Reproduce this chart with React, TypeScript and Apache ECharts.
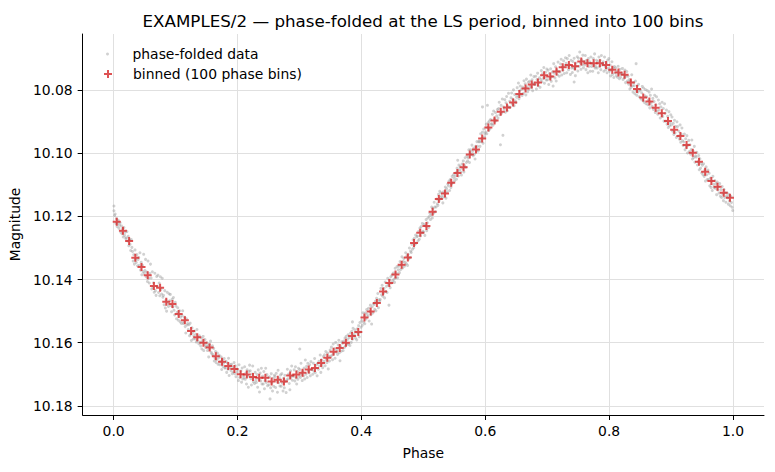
import React, { useEffect, useRef } from "react";
import * as echarts from "echarts";

// Phase-folded light curve of EXAMPLES/2, folded at the Lomb-Scargle period.
const BIN_COUNT = 100;

// Mean magnitude of each of the 100 phase bins (bin i covers phase i/100 .. (i+1)/100).
const binnedMag = [
  10.1217, 10.1245, 10.1278, 10.1331, 10.136, 10.1386, 10.142, 10.1426, 10.147, 10.1477,
  10.1509, 10.1529, 10.1563, 10.1583, 10.16, 10.1615, 10.1643, 10.166, 10.1674, 10.1683,
  10.17, 10.1701, 10.1709, 10.1711, 10.1711, 10.1723, 10.1717, 10.1723, 10.1704, 10.1701,
  10.1695, 10.1685, 10.168, 10.1664, 10.1648, 10.1629, 10.1617, 10.16, 10.1579, 10.1566,
  10.152, 10.1501, 10.1474, 10.1438, 10.1411, 10.1384, 10.1353, 10.133, 10.1284, 10.1252,
  10.123, 10.1185, 10.1145, 10.1127, 10.1093, 10.1062, 10.1044, 10.1004, 10.0988, 10.0953,
  10.0918, 10.0896, 10.0868, 10.0855, 10.0839, 10.0812, 10.0795, 10.0782, 10.0776, 10.0753,
  10.0757, 10.0741, 10.0727, 10.072, 10.0724, 10.0709, 10.0715, 10.0715, 10.0715, 10.072,
  10.0735, 10.0744, 10.0751, 10.0776, 10.0796, 10.0823, 10.0836, 10.0856, 10.0873, 10.0898,
  10.0925, 10.0945, 10.0974, 10.0998, 10.1027, 10.1058, 10.1088, 10.1106, 10.1125, 10.1141,
];

// Individual folded observations, one string per phase bin.
// Each token: phase position inside the bin (thousandths, 0-9) followed by the
// signed offset from the bin mean in units of 0.5 mmag.
const foldedObs = [
  "0-7 0-10 1-4 2-5 3+1 4-2 5+3 6+1 7-1 8+4 9+2",
  "0-5 1+1 2-3 3+2 4-1 5+4 6-2 7+3 8+1 9+5",
  "0-2 1-6 2+0 3-3 4+3 5-1 6+2 7+6 8-1 9+4",
  "0-4 1+2 2-2 3+4 4-5 5+1 6+3 7-2 8+5 9+1",
  "0-6 1-1 2-9 3+2 4-3 5+5 6-1 7+3 8-8 9+4",
  "0-3 1-10 2+1 3-2 4+4 5-9 6+2 7+5 8-1 9-7",
  "0-5 1+2 2-9 3+1 4-2 5+4 6-8 7+3 8+6 9-6",
  "0-1 1-8 2+3 3-3 4+5 5-7 6+1 7+4 8-6 9+6",
  "0-4 1+2 2-7 3+4 4-1 5+6 6-6 7+1 8+3 9-5",
  "0-2 1-6 2+1 3+5 4-3 5+2 6-4 7+4 8+7 9-1",
  "0-5 1+3 2-1 3-4 4+4 5+1 6-2 7+5 8+2 9+6",
  "0-3 1-6 2+2 3+1 4-2 5+4 6+8 7-1 8+3 9+2",
  "0-1 1-4 2+3 3-5 4+2 5+6 6-2 7+1 8+5 9+3",
  "0-4 1+1 2-2 3+3 4-5 5+2 6+0 7+4 8-1 9+3",
  "0+2 1-3 2+4 3-1 4-4 5+5 6+1 7-2 8+3 9+2",
  "0-3 1+2 2-1 3+6 4-2 5+1 6-4 7+3 8+4 9-1",
  "0-1 1-5 2+3 3+1 4-3 5+4 6+2 7-2 8+5 9+1",
  "0-4 1+2 2+0 3-3 4+5 5-1 6+3 7+1 8-2 9+4",
  "0+1 1-3 2+4 3-2 4+2 5-5 6+6 7+1 8-1 9+3",
  "0-3 1+3 2-1 3+2 4-4 5+3 6-2 7+5 8+0 9+2",
  "0-3 1+4 2-6 3+2 4+0 5-2 6+5 7-4 8+3 9+1",
  "0+2 1-5 2+3 3-1 4+6 5-3 6+1 7+8 8-2 9-6",
  "0-4 1+1 2+5 3-2 4-7 5+3 6+0 7+4 8-3 9+2",
  "0+3 1-2 2+6 3-5 4+1 5+9 6-3 7+2 8-6 9+4",
  "0-1 1+4 2-4 3+7 4+2 5-6 6+3 7-2 8+5 9+0",
  "0+2 1-3 2+11 3+4 4-5 5+1 6+6 7-2 8+3 9-4",
  "0-2 1+5 2-4 3+1 4+8 5-6 6+2 7-1 8+4 9-3",
  "0+3 1-5 2+1 3+6 4-2 5+4 6-4 7+0 8+7 9-1",
  "0-4 1+2 2-1 3+5 4+9 5-3 6+1 7-6 8+3 9+0",
  "0+1 1-3 2+4 3-5 4+2 5+6 6-2 7+3 8-4 9+1",
  "0-2 0-15 1+3 2-6 3+1 4+5 5-1 6+2 7-3 8+4 9-8",
  "0+3 1-2 2+5 3-4 4+1 5+2 6-3 7+4 8-5 9+0",
  "0+1 1+4 2-3 3+2 4-6 5+3 6+0 7-2 8+5 9-3",
  "0+4 1-1 2+2 3-5 4+6 5-2 6+1 7+3 8-4 9-1",
  "0-2 1+5 2-4 3+1 4+3 5-3 6+7 7-1 8+2 9-5",
  "0+3 1-3 2+2 3+5 4-5 5+1 6-2 7+4 8-6 9+0",
  "0+1 1+4 2-2 3-5 4+3 5+8 6-1 7+2 8-4 9-3",
  "0+5 1-1 2+3 3-3 4+2 5-4 6+1 7-2 8-5 9+1",
  "0+1 1+6 2-2 3+4 4-3 5+2 5-9 6-5 7+0 8-1 9-4",
  "0+4 1+0 2+5 3-2 4+1 5-4 6+3 7-6 8+0 9-3",
  "0+2 1+5 2-3 3+3 4-1 5+4 6-3 7+1 8-5 9-2",
  "0+3 1-2 2+6 3+0 4-4 5+2 6+8 7-3 8+1 9-5",
  "0+1 1+4 2-1 3+5 4-3 5+0 6-6 7+3 8-2 9-1",
  "0+5 1-2 2+2 3-4 4+3 5+1 6-2 7+4 8-6 9+0",
  "0+2 1+6 2-3 3+1 4+14 5-2 6+3 7-4 8+0 9-5",
  "0+4 1-1 2+3 3+5 4-4 5+2 6-1 7-5 8+2 9-3",
  "0+1 1+5 2-2 3+3 4+0 5-5 6+2 7-2 8-4 9+1",
  "0+3 1-3 2+4 3-1 4+5 5-2 6+1 7-6 8+0 9-4",
  "0+6 1+1 2+4 3-2 4+3 5-3 6+1 7-5 8+0 9-4",
  "0+2 1+5 2-1 3+4 4-3 5+2 6-4 7+0 8-6 9-1",
  "0+4 1-1 2+6 3+0 4-4 5+3 6-2 7-5 8+1 9-6",
  "0+1 1+5 2+2 3-3 4+4 5-2 6+1 7-6 8-3 9+0",
  "0+5 1+0 2+3 3+4 4-3 5+1 6-5 7-1 8-4 9-2",
  "0+3 1+6 2-1 3+2 4+0 5-4 6+3 7-3 8-1 9-6",
  "0+2 1-1 2+5 3-2 4+3 5+1 6-4 7+0 8-5 9-3",
  "0+5 1+2 2+0 3+4 4-3 5-1 5-8 6+2 7-5 8-2 9-4",
  "0+3 1+5 2-2 3+1 4-4 5+3 6-1 7-6 8+0 9-3",
  "0+1 1+4 2+2 3-3 4+5 5-1 6-3 7+0 8-6 9-2",
  "0+4 1-1 2+3 3+6 4-2 5+1 6-5 7-2 8+1 9-5",
  "0+2 1+5 2-3 3+2 4+0 5-4 5-20 6+3 7-6 8-1 9-3",
  "0+3 1-2 2+4 3+0 3-14 4-3 5+2 6-4 7+1 8-5 9-2",
  "0+2 1-4 2+3 3-6 4-1 5+1 6-5 7+0 8-3 9-7",
  "0+4 1-2 2-6 3+2 4+21 5-4 6+1 7-8 8+15 9-3",
  "0+1 1-5 2+3 3-3 4-7 5+2 6-1 7-9 8+0 9-4",
  "0+3 1-3 2-6 3+1 4-2 5-8 6+2 7-5 8-1 9+0",
  "0+2 1-4 2+1 3-7 4+3 5-2 6-5 7+0 8-3 9+1",
  "0-1 1+3 2-5 3+0 4-3 5+4 6-6 7-1 8+2 9-4",
  "0+3 1-2 2+1 3-6 4+2 5-3 6+4 7-1 8-5 9+0",
  "0+1 1-4 2+4 3-2 4-6 5+2 6+0 7-3 8+3 9-2",
  "0-3 1+4 2-1 3+2 4-5 5+5 6+1 7-2 8+3 9-4",
  "0+2 1-4 2+5 3-2 4+1 5-5 6+3 7+0 8-3 9+6",
  "0-5 1+1 2+4 3-3 4+6 5-1 6+2 7-6 8+0 9+3",
  "0+3 1-2 2-5 3+5 4+0 5+2 6-4 7+4 8-1 9-6",
  "0-1 1+5 2-4 3+1 4+3 5-6 6+0 7+6 8-3 9+2",
  "0+4 1-3 2+1 3-5 3+10 4+2 5+6 6-2 7+0 8-6 9+3",
  "0-2 1+3 2-6 3+1 4+5 5-1 6+2 7-4 8+4 9+0",
  "0+1 1-5 2+4 3-2 4+0 5+6 6-3 7+2 8-1 9+5",
  "0-4 1+2 2+0 3+5 4-3 5+1 6-6 7+3 8+2 9-2",
  "0+3 1-1 2+6 3-4 4+2 5-2 6+4 7-5 8+1 9+0",
  "0-2 1+4 2-5 3+1 4+3 5-1 6+5 7-3 8+2 9-4",
  "0+1 1-3 2+4 3+0 4-5 5+3 6-1 7+5 8-2 9+2",
  "0-3 1+2 2-1 3+3 4-4 5+1 6+4 7-2 8+3 9+1",
  "0-1 1-4 2+3 3+0 4+2 5-3 6+5 7+1 8-2 9+4",
  "0-4 1+1 2-2 3+4 4-1 5+3 6-5 7+2 8+6 9+0",
  "0-2 1+3 2-5 3+1 3-16 4+4 5-2 6+2 7-3 8+5 9+1",
  "0-5 1+1 2-3 3-7 4+2 5-6 6+3 7-1 8-5 9+4",
  "0-3 1-7 2+2 3-1 4-6 5+4 6-4 7+1 8-8 9+3",
  "0-6 1+1 2-4 3-8 4+3 5-2 6-7 7+2 8+4 9-5",
  "0-2 1-6 2+3 3-4 4+0 5-7 6+2 7-3 8+5 9-6",
  "0-5 1+0 2-7 3+2 4-3 5+4 6-6 7+3 8+1 9-4",
  "0-3 1-8 2+1 3-4 4+3 5-6 6+2 7-2 8+5 9-5",
  "0-6 1+0 2-3 3+2 4-7 5+4 6-1 7-5 8+3 9+6",
  "0-2 1-7 2+3 3-4 4+1 5-6 6+5 7+0 8-3 9+4",
  "0-5 1+1 2-2 3-8 4+4 5-1 6+3 7-4 8+6 9+2",
  "0-3 1-6 2+2 3+0 4-4 5+5 6-2 7+4 8+1 9+7",
  "0-4 1+2 2-5 3+3 4-1 5+6 6-3 7+2 8+5 9-1",
  "0-1 1-5 2+3 3-2 4+4 5+0 6+6 7-3 8+2 9+4",
  "0-4 1+1 2-2 3+5 4-3 5+2 6+0 7+4 8-2 9+6",
  "0-2 1+3 2-4 3+1 4+5 5-2 6+3 7+0 8+6 9+2",
  "0-3 1+0 2+4 3-2 4+2 5+5 6-1 7+3 8+6 9+8",
];

const phaseTicks = [0, 0.2, 0.4, 0.6, 0.8, 1.0];
const magTicks = [10.08, 10.1, 10.12, 10.14, 10.16, 10.18];

const PHASE_MIN = -0.05;
const PHASE_MAX = 1.05;
const MAG_MIN = 10.0622;
const MAG_MAX = 10.1829;

const FONT = "DejaVu Sans";
const DATA_NAME = "phase-folded data";
const BIN_NAME = "binned (100 phase bins)";

const binnedPoints = binnedMag.map((m, i) => [(i + 0.5) / BIN_COUNT, m]);

const foldedPoints: number[][] = [];
foldedObs.forEach((row, i) => {
  row
    .trim()
    .split(/\s+/)
    .forEach((tok) => {
      const slot = Number(tok[0]);
      const off = Number(tok.slice(1));
      foldedPoints.push([i / BIN_COUNT + (slot + 0.5) / 1000, binnedMag[i] + off * 0.0005]);
    });
});

const PLUS = "path://M3,0H5V3H8V5H5V8H3V5H0V3H3Z";

export default function App() {
  const ref = useRef<HTMLDivElement>(null);

  useEffect(() => {
    document.body.style.margin = "0";
    if (!ref.current) return;
    const chart = echarts.init(ref.current, undefined, { renderer: "svg" });
    chart.setOption({
      animation: false,
      backgroundColor: "#ffffff",
      title: {
        text: "EXAMPLES/2 \u2014 phase-folded at the LS period, binned into 100 bins",
        left: 418,
        top: 7,
        textAlign: "center",
        textStyle: { fontFamily: FONT, fontSize: 16.7, fontWeight: "normal", color: "#000" },
      },
      legend: [
        {
          data: [DATA_NAME],
          orient: "vertical",
          left: 106,
          top: 47,
          padding: 0,
          itemWidth: 40,
          itemHeight: 3,
          itemGap: 0,
          selectedMode: false,
          textStyle: { fontFamily: FONT, fontSize: 13.9, color: "#000" },
        },
        {
          data: [BIN_NAME],
          orient: "vertical",
          left: 104,
          top: 67,
          padding: 0,
          itemWidth: 40,
          itemHeight: 8,
          itemGap: 0,
          selectedMode: false,
          textStyle: { fontFamily: FONT, fontSize: 13.9, color: "#000" },
        },
      ],
      grid: { left: 82, right: 11, top: 34, bottom: 57 },
      xAxis: {
        type: "value",
        min: PHASE_MIN,
        max: PHASE_MAX,
        name: "Phase",
        nameLocation: "middle",
        nameGap: 31,
        nameTextStyle: { fontFamily: FONT, fontSize: 13.9, color: "#000" },
        axisLine: { show: true, onZero: false, lineStyle: { color: "#000", width: 1 } },
        axisTick: { show: true, length: 5, customValues: phaseTicks, lineStyle: { color: "#000" } },
        axisLabel: {
          customValues: phaseTicks,
          formatter: (v: number) => v.toFixed(1),
          fontFamily: FONT,
          fontSize: 13.9,
          color: "#000",
          margin: 9,
        },
        splitLine: { show: true, lineStyle: { color: "#e0e0e0", width: 1 } },
      },
      yAxis: {
        type: "value",
        inverse: true,
        min: MAG_MIN,
        max: MAG_MAX,
        name: "Magnitude",
        nameLocation: "middle",
        nameGap: 48,
        nameRotate: 90,
        nameTextStyle: { fontFamily: FONT, fontSize: 13.9, color: "#000" },
        axisLine: { show: true, onZero: false, lineStyle: { color: "#000", width: 1 } },
        axisTick: { show: true, length: 5, customValues: magTicks, lineStyle: { color: "#000" } },
        axisLabel: {
          customValues: magTicks,
          formatter: (v: number) => v.toFixed(2),
          fontFamily: FONT,
          fontSize: 13.9,
          color: "#000",
          margin: 10,
        },
        splitLine: { show: true, lineStyle: { color: "#e0e0e0", width: 1 } },
      },
      series: [
        {
          name: DATA_NAME,
          type: "scatter",
          data: foldedPoints,
          symbol: "circle",
          symbolSize: 3,
          itemStyle: { color: "rgba(150,150,150,0.55)" },
          silent: true,
          z: 2,
        },
        {
          name: BIN_NAME,
          type: "scatter",
          data: binnedPoints,
          symbol: PLUS,
          symbolSize: 8,
          itemStyle: { color: "#d62728" },
          silent: true,
          z: 3,
        },
      ],
    });
    return () => chart.dispose();
  }, []);

  return <div ref={ref} style={{ width: 775, height: 472 }} />;
}
